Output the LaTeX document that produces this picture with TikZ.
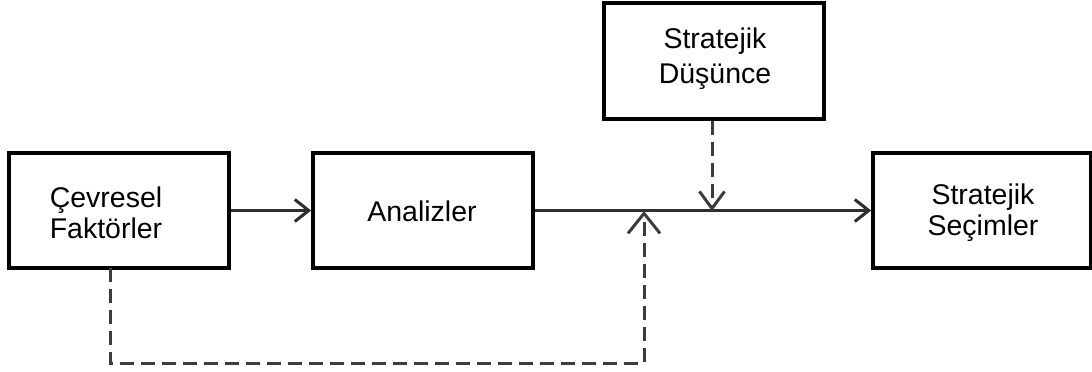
\documentclass[tikz,border=0pt]{standalone}
\usepackage{fontspec}
\setmainfont{Liberation Sans}
\usetikzlibrary{arrows.meta}
\definecolor{linegray}{HTML}{2E2E2E}
\definecolor{dashgray}{HTML}{3C3C3C}
\tikzset{
  blockbox/.style={draw=black, line width=3.6pt, minimum width=220pt, minimum height=115pt, inner sep=0pt},
  blocktext/.style={align=center, inner sep=0pt, font=\fontsize{28.5}{31}\selectfont},
  flowline/.style={draw=linegray, line width=3pt},
  feedline/.style={draw=dashgray, line width=3pt, dash pattern=on 14pt off 7pt},
  smallbarb/.style={-{Straight Barb[length=14pt,width=22pt,line join=miter]}},
  bigbarb/.style={-{Straight Barb[length=20pt,width=32pt,line join=miter]}},
  midbarb/.style={-{Straight Barb[length=17pt,width=25pt,line join=miter]}}
}
\begin{document}
\begin{tikzpicture}[x=1pt, y=-1pt]
  \useasboundingbox (0,0) rectangle (1092,372);

  % blocks
  \node[blockbox] (cev) at (119,210.5) {};
  \node[blocktext] (cevtxt) at (106,213) {Çevresel\\Faktörler};
  \node[blockbox] (ana) at (423,210.5) {};
  \node[blocktext] (anatxt) at (422,211) {Analizler};
  \node[blockbox, minimum height=116pt] (dus) at (714,61) {};
  \node[blocktext, font=\fontsize{28.5}{35}\selectfont] (dustxt) at (715,59) {Stratejik\\Düşünce};
  \node[blockbox, minimum width=218pt] (sec) at (982,210.5) {};
  \node[blocktext] (sectxt) at (983,213) {Stratejik\\Seçimler};

  % junction points on the main line
  \coordinate (jup) at (644,211);
  \coordinate (jdown) at (712,211);
  \coordinate (cevdrop) at (110,268);
  \coordinate (cornerl) at (110,363);
  \coordinate (cornerr) at (644,363);

  % main flow
  \draw[flowline, smallbarb] (cev.east) -- (ana.west);
  \draw[flowline, smallbarb] (ana.east) -- (sec.west);

  % dashed influences
  \draw[feedline, midbarb] (dus.south -| jdown) -- (jdown);
  \draw[feedline, bigbarb] (cevdrop) -- (cornerl) -- (cornerr) -- (jup);
\end{tikzpicture}
\end{document}
